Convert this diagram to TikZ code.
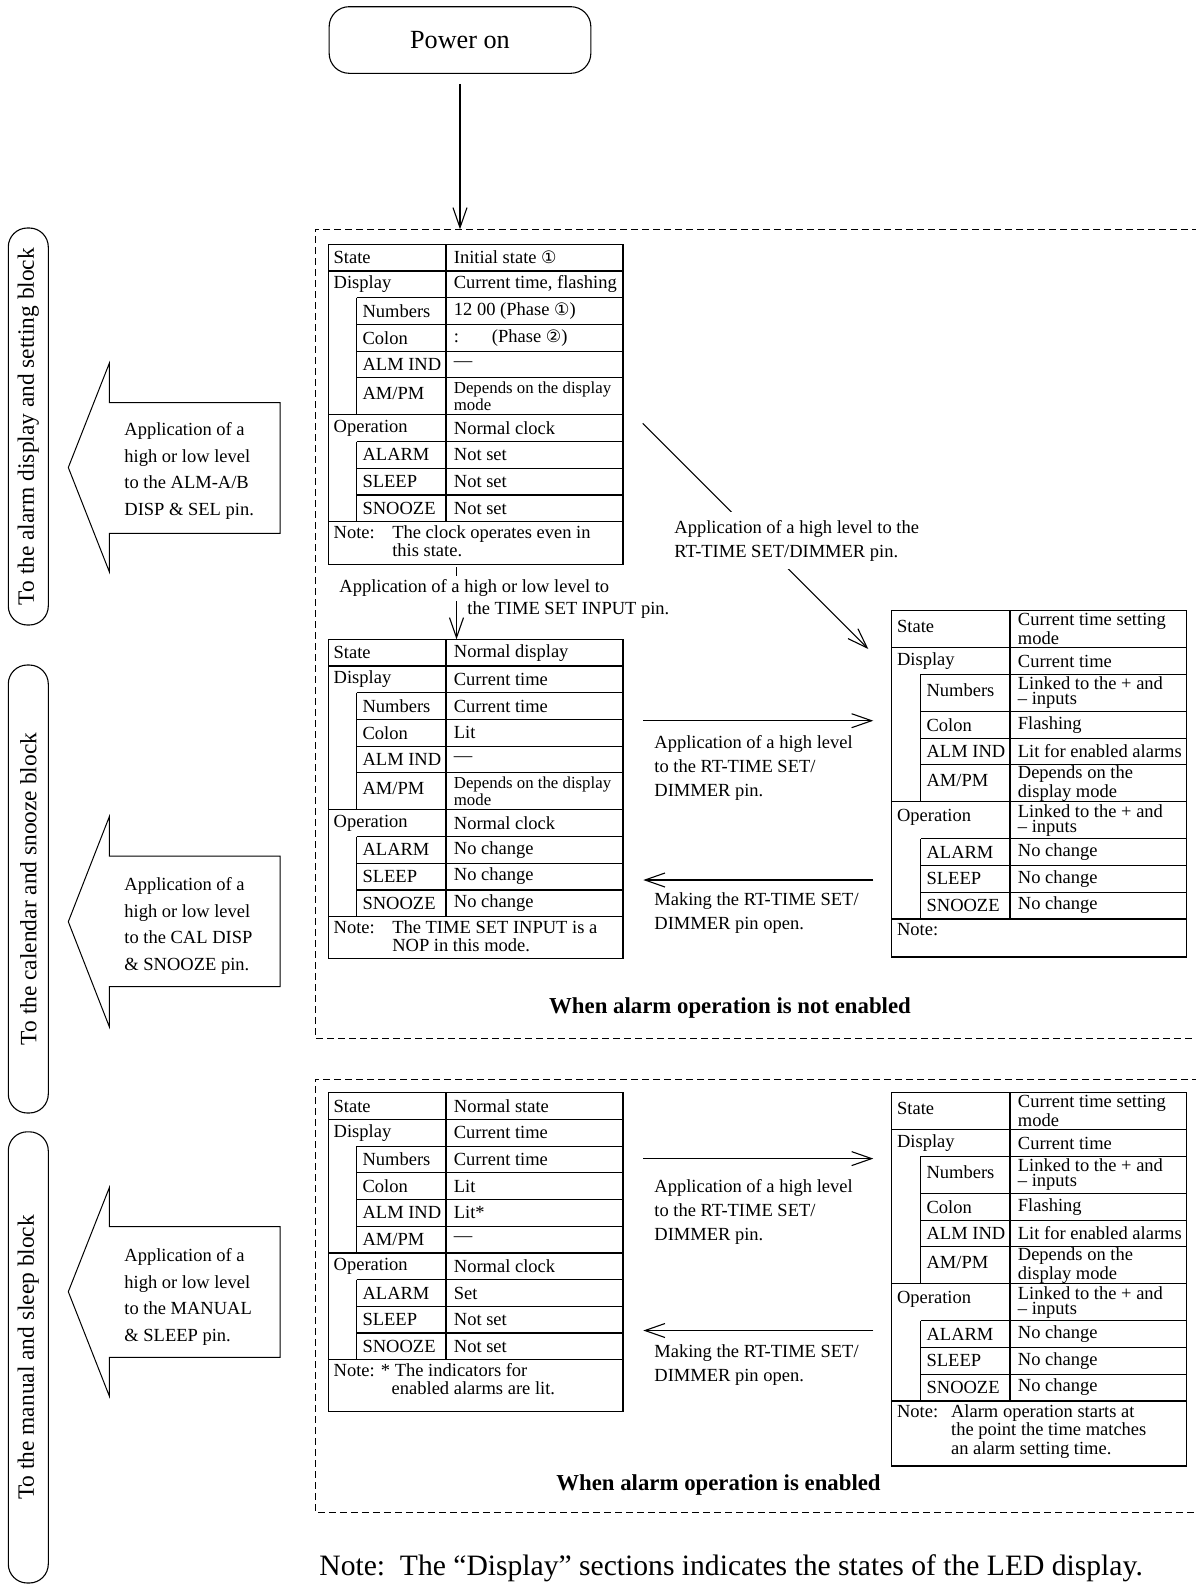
\documentclass[tikz,border=0pt]{standalone}
\usepackage{fontspec}
\setmainfont{Liberation Serif}
\newfontfamily\symfam{DejaVu Sans}
\usetikzlibrary{arrows.meta}

\newcommand\fTab{\fontsize{9.25pt}{11pt}\selectfont}
\newcommand\fTight{\fontsize{9.25pt}{7.6pt}\selectfont}
\newcommand\fSmall{\fontsize{8.4pt}{7.4pt}\selectfont}
\newcommand\fNote{\fontsize{9.25pt}{9.3pt}\selectfont}
\newcommand\circnum[1]{{\symfam\fontsize{8.6pt}{8.6pt}\selectfont #1}}

\newcommand\TBstart[6]{\xdef\TBname{#1}\xdef\TBa{#2}\xdef\TBb{#3}\xdef\TBc{#4}\xdef\TBd{#5}\xdef\TBy{#6}\xdef\TBys{#6}}
\newcommand\TBrow[5][\fTight]{%
  \pgfmathsetmacro\TByn{\TBy+#3}%
  \pgfmathsetmacro\TBym{\TBy+#3/2-(#3>30?3:0)}%
  \pgfmathsetmacro\TByv{\TBy+#3/2}%
  \if#2m
    \draw[tl] (\TBa,\TBy) -- (\TBd,\TBy);
    \node[lbl] at (\TBa+5,\TBym) {#4};
  \else
    \draw[tl] (\TBb,\TBy) -- (\TBd,\TBy);
    \draw[tl] (\TBb,\TBy) -- (\TBb,\TByn);
    \node[lbl] at (\TBb+5.5,\TBym) {#4};
  \fi
  \draw[tl] (\TBc,\TBy) -- (\TBc,\TByn);
  \node[val,font=#1] at (\TBc+7.5,\TByv) {#5};
  \xdef\TBy{\TByn}}
\newcommand\TBnote[2]{%
  \pgfmathsetmacro\TByn{\TBy+#1}%
  \draw[tl] (\TBa,\TBy) -- (\TBd,\TBy);
  \node[notef] at (\TBa+5,\TBy+3) {#2};
  \pgfmathsetmacro\TBw{(\TBd-\TBa)*0.5}%
  \pgfmathsetmacro\TBh{(\TByn-\TBys)*0.5}%
  \node[tl,draw,inner sep=0pt,outer sep=0pt,minimum width=\TBw pt,minimum height=\TBh pt,anchor=north west] (\TBname) at (\TBa,\TBys) {};
}

\begin{document}
\begin{tikzpicture}[x=0.5pt,y=-0.5pt,
 tl/.style={line width=0.6pt},
 lbl/.style={anchor=west,inner sep=0pt,font=\fTab},
 val/.style={anchor=west,inner sep=0pt,align=left},
 notef/.style={anchor=north west,inner sep=0pt,font=\fNote},
 arr/.style={line width=0.55pt,-{Straight Barb[length=10pt,width=7pt]}},
 lab/.style={anchor=north west,inner sep=0pt,align=left,font=\fontsize{9.25pt}{12pt}\selectfont},
 dbox/.style={line width=0.5pt,dash pattern=on 3.3pt off 2.2pt},
 vbox/.style={draw,line width=0.55pt,rounded corners=9.5pt,rotate=90,minimum height=20pt,inner sep=0pt,font=\fontsize{11.7pt}{13pt}\selectfont},
 bigarrow/.style={draw,line width=0.5pt},
 arrtext/.style={anchor=north west,inner sep=0pt,align=left,font=\fontsize{9.25pt}{13.3pt}\selectfont},
]
\fill[white] (0,0) rectangle (1195,1585);
\useasboundingbox (0,0) rectangle (1195,1585);

% dashed regions
\draw[dbox] (1210,229.3) -- (315,229.3) -- (315,1038) -- (1210,1038);
\draw[dbox] (1210,1079) -- (315,1079) -- (315,1512) -- (1210,1512);

% power on
\node[draw,line width=0.55pt,rounded corners=10pt,minimum width=130.85pt,minimum height=33.3pt,font=\fontsize{13.1pt}{15pt}\selectfont] (pw) at (460,40) {Power on};

% vertical side boxes
\node[vbox,minimum width=198.5pt] (b1) at (28.3,426.5) {To the alarm display and setting block};
\node[vbox,minimum width=224pt] (b2) at (28.3,889) {To the calendar and snooze block};
\node[vbox,minimum width=225.6pt] (b3) at (28.3,1357.4) {To the manual and sleep block};

% big left arrows
\draw[bigarrow] (280,402.7) -- (109.3,402.7) -- (109.3,363.3) -- (68.3,467.5) -- (109.3,571.7) -- (109.3,533.3) -- (280,533.3) -- cycle;
\draw[bigarrow] (280,856) -- (109.3,856) -- (109.3,816.7) -- (68.3,921.7) -- (109.3,1026.7) -- (109.3,986.7) -- (280,986.7) -- cycle;
\draw[bigarrow] (280,1226.7) -- (109.3,1226.7) -- (109.3,1187.7) -- (68.3,1291.7) -- (109.3,1396) -- (109.3,1357.3) -- (280,1357.3) -- cycle;
\node[arrtext] (a1t) at (124,422) {Application of a\\high or low level\\to the ALM-A/B\\DISP \& SEL pin.};
\node[arrtext] (a2t) at (124,877) {Application of a\\high or low level\\to the CAL DISP\\\& SNOOZE pin.};
\node[arrtext] (a3t) at (124,1248) {Application of a\\high or low level\\to the MANUAL\\\& SLEEP pin.};

% table 1
\TBstart{t1}{328.3}{356.7}{446}{623}{244.3}
\TBrow{m}{26.7}{State}{Initial state \circnum{①}}
\TBrow{m}{26.7}{Display}{Current time, flashing}
\TBrow{s}{26.7}{Numbers}{12 00 (Phase \circnum{①})}
\TBrow{s}{26.7}{Colon}{\makebox[19pt][l]{:}(Phase \circnum{②})}
\TBrow{s}{26.7}{ALM IND}{—}
\TBrow[\fSmall]{s}{37}{AM/PM}{Depends on the display\\mode}
\TBrow{m}{26.7}{Operation}{Normal clock}
\TBrow{s}{26.7}{ALARM}{Not set}
\TBrow{s}{26.7}{SLEEP}{Not set}
\TBrow{s}{26.7}{SNOOZE}{Not set}
\TBnote{42.6}{\begin{tabular}[t]{@{}p{29.3pt}@{}l@{}}Note:&The clock operates even in\\&this state.\end{tabular}}

% table 2
\TBstart{t2}{328.3}{356.7}{446}{623}{639.3}
\TBrow{m}{26.7}{State}{Normal display}
\TBrow{m}{26.7}{Display}{Current time}
\TBrow{s}{26.7}{Numbers}{Current time}
\TBrow{s}{26.7}{Colon}{Lit}
\TBrow{s}{26.7}{ALM IND}{—}
\TBrow[\fSmall]{s}{37}{AM/PM}{Depends on the display\\mode}
\TBrow{m}{26.7}{Operation}{Normal clock}
\TBrow{s}{26.7}{ALARM}{No change}
\TBrow{s}{26.7}{SLEEP}{No change}
\TBrow{s}{26.7}{SNOOZE}{No change}
\TBnote{42}{\begin{tabular}[t]{@{}p{29.3pt}@{}l@{}}Note:&The TIME SET INPUT is a\\&NOP in this mode.\end{tabular}}

% table 3
\TBstart{t3}{891.7}{920.7}{1010}{1186.5}{610.7}
\TBrow{m}{37}{State}{Current time setting\\mode}
\TBrow{m}{26.7}{Display}{Current time}
\TBrow{s}{37}{Numbers}{Linked to the + and\\– inputs}
\TBrow{s}{26.7}{Colon}{Flashing}
\TBrow{s}{26.7}{ALM IND}{Lit for enabled alarms}
\TBrow{s}{37}{AM/PM}{Depends on the\\display mode}
\TBrow{m}{37}{Operation}{Linked to the + and\\– inputs}
\TBrow{s}{26.7}{ALARM}{No change}
\TBrow{s}{26.7}{SLEEP}{No change}
\TBrow{s}{26.7}{SNOOZE}{No change}
\TBnote{38}{\begin{tabular}[t]{@{}l@{}}Note:\end{tabular}}

% table 4
\TBstart{t4}{328.3}{356.7}{446}{623}{1092.7}
\TBrow{m}{26.7}{State}{Normal state}
\TBrow{m}{26.7}{Display}{Current time}
\TBrow{s}{26.7}{Numbers}{Current time}
\TBrow{s}{26.7}{Colon}{Lit}
\TBrow{s}{26.7}{ALM IND}{Lit*}
\TBrow{s}{26.7}{AM/PM}{—}
\TBrow{m}{26.7}{Operation}{Normal clock}
\TBrow{s}{26.7}{ALARM}{Set}
\TBrow{s}{26.7}{SLEEP}{Not set}
\TBrow{s}{26.7}{SNOOZE}{Not set}
\TBnote{52}{\begin{tabular}[t]{@{}l@{}}Note: * The indicators for\\\hspace{29pt}enabled alarms are lit.\end{tabular}}

% table 5
\TBstart{t5}{891.7}{920.7}{1010}{1186.5}{1092.7}
\TBrow{m}{37}{State}{Current time setting\\mode}
\TBrow{m}{26.7}{Display}{Current time}
\TBrow{s}{37}{Numbers}{Linked to the + and\\– inputs}
\TBrow{s}{26.7}{Colon}{Flashing}
\TBrow{s}{26.7}{ALM IND}{Lit for enabled alarms}
\TBrow{s}{37}{AM/PM}{Depends on the\\display mode}
\TBrow{m}{37}{Operation}{Linked to the + and\\– inputs}
\TBrow{s}{26.7}{ALARM}{No change}
\TBrow{s}{26.7}{SLEEP}{No change}
\TBrow{s}{26.7}{SNOOZE}{No change}
\TBnote{65}{\begin{tabular}[t]{@{}p{27pt}@{}l@{}}Note:&Alarm operation starts at\\&the point the time matches\\&an alarm setting time.\end{tabular}}

% connectors
\coordinate (pe) at (460,229.3);
\draw[arr] ([yshift=-5pt]pw.south) -- (pe);

\coordinate (ts) at (456.5,567);
\draw[arr] (ts) -- (ts |- t2.north);
\node[anchor=west,fill=white,inner xsep=1pt,inner ysep=1.5pt,text height=7pt,text depth=2.5pt,font=\fTab] (tl1) at (337,588) {Application of a high or low level to};
\node[anchor=west,inner sep=0pt,font=\fTab] (tl2) at (467,610) {the TIME SET INPUT pin.};

\coordinate (dA) at (642.7,423.3);
\coordinate (dB) at (868.3,649);
\draw[arr] (dA) -- (dB);
\node[lab,fill=white,inner sep=4pt] (dl) at (666,511.7) {Application of a high level to the\\RT-TIME SET/DIMMER pin.};

\coordinate (m1a) at (643.3,720.7); \coordinate (m1b) at (873.3,720.7);
\draw[arr] (m1a) -- (m1b);
\node[lab] (m1l) at (654,735.3) {Application of a high level\\to the RT-TIME SET/\\DIMMER pin.};
\coordinate (m2a) at (873.3,880); \coordinate (m2b) at (643.3,880);
\draw[arr] (m2a) -- (m2b);
\node[lab] (m2l) at (654,892) {Making the RT-TIME SET/\\DIMMER pin open.};

\coordinate (m3a) at (643.3,1158.6); \coordinate (m3b) at (873.3,1158.6);
\draw[arr] (m3a) -- (m3b);
\node[lab] (m3l) at (654,1179) {Application of a high level\\to the RT-TIME SET/\\DIMMER pin.};
\coordinate (m4a) at (873.3,1330.5); \coordinate (m4b) at (643.3,1330.5);
\draw[arr] (m4a) -- (m4b);
\node[lab] (m4l) at (654,1344) {Making the RT-TIME SET/\\DIMMER pin open.};

% captions
\node[font=\fontsize{11.4pt}{13pt}\selectfont\bfseries] (cap1) at (730,1008) {When alarm operation is not enabled};
\node[font=\fontsize{11.4pt}{13pt}\selectfont\bfseries] (cap2) at (718.5,1485) {When alarm operation is enabled};
\node[anchor=west,inner sep=0pt,font=\fontsize{14.8pt}{17pt}\selectfont] (bn) at (319,1568) {Note:\ \ The “Display” sections indicates the states of the LED display.};
\end{tikzpicture}
\end{document}
